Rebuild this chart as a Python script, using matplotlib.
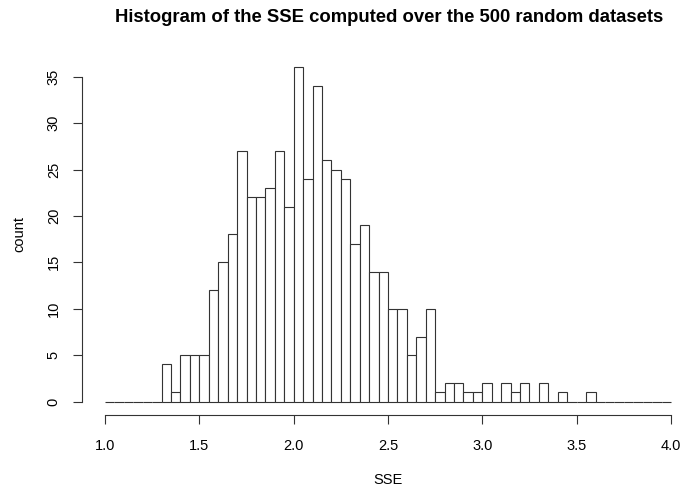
import numpy as np
import matplotlib.pyplot as plt

plt.rcParams['font.family'] = ['Liberation Sans', 'DejaVu Sans']

# histogram bins (width 0.05 from 1.0 to 4.0) and counts
bin_width = 0.05
bin_left = np.round(np.arange(1.0, 4.0, bin_width), 2)
counts = [0, 0, 0, 0, 0, 0,
          4, 1, 5, 5, 5, 12, 15, 18, 27, 22,
          22, 23, 27, 21, 36, 24, 34, 26, 25, 24,
          17, 19, 14, 14, 10, 10, 5, 7, 10, 1,
          2, 2, 1, 1, 2, 0, 2, 1, 2, 0,
          2, 0, 1, 0, 0, 1, 0, 0, 0, 0,
          0, 0, 0, 0]

x_ticks = [1.0, 1.5, 2.0, 2.5, 3.0, 3.5, 4.0]
y_ticks = [0, 5, 10, 15, 20, 25, 30, 35]

fig = plt.figure(figsize=(6.85, 4.94), dpi=100)
ax = fig.add_axes([82.4 / 685, 79 / 494, 611.2 / 685, 361 / 494])

ax.bar(bin_left, counts, width=bin_width, align='edge',
       facecolor='white', edgecolor='#333333', linewidth=0.8)

ax.set_xlim(0.88, 4.12)
ax.set_ylim(-1.44, 37.44)

ax.spines['top'].set_visible(False)
ax.spines['right'].set_visible(False)
ax.spines['bottom'].set_bounds(1.0, 4.0)
ax.spines['left'].set_bounds(0, 35)
for s in ('bottom', 'left'):
    ax.spines[s].set_linewidth(0.8)
    ax.spines[s].set_color('#333333')

ax.set_xticks(x_ticks)
ax.set_xticklabels(['%.1f' % v for v in x_ticks])
ax.set_yticks(y_ticks)
ax.set_yticklabels([str(v) for v in y_ticks], rotation=90, va='center')
ax.tick_params(length=6.5, width=0.8, color='#333333', labelsize=10.5)
ax.tick_params(axis='x', pad=10.5)
ax.tick_params(axis='y', pad=9)

ax.set_xlabel('SSE', fontsize=10.5, labelpad=15)
ax.set_ylabel('count', fontsize=10.5, labelpad=15)

# R places the main title centred over the plot region
fig.text(389 / 685, 1 - 17 / 494,
         'Histogram of the SSE computed over the 500 random datasets',
         fontsize=13.3, fontweight='bold', ha='center', va='center')

fig.savefig('out.png', dpi=100)
